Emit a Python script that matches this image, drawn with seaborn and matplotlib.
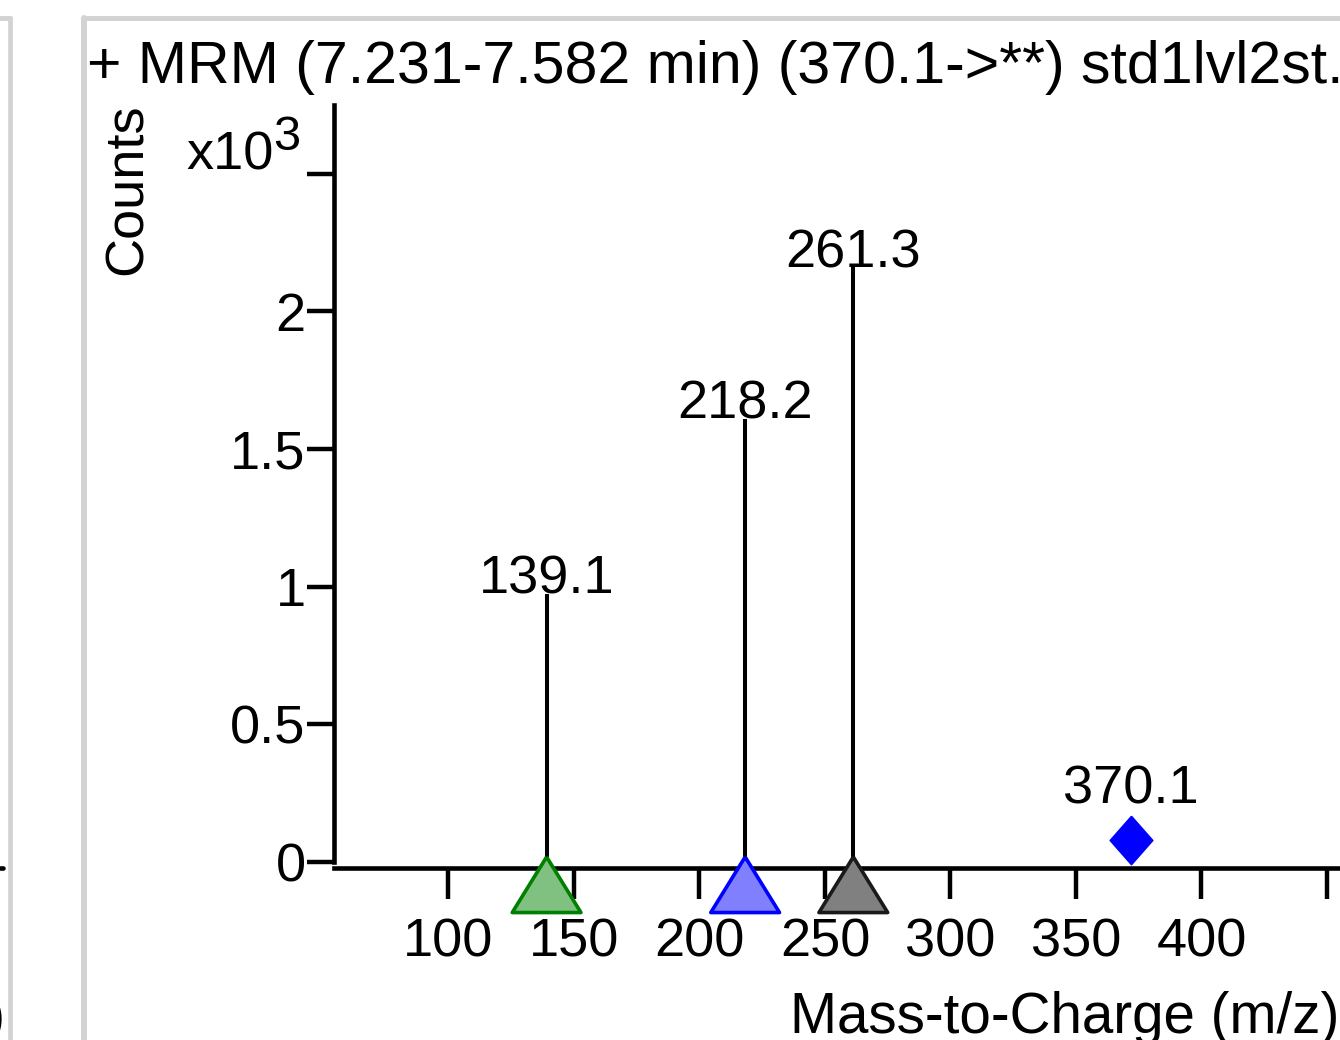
"""
MRM product ion spectrum (MassHunter style) recreated with seaborn
"""

import numpy as np
import pandas as pd
import matplotlib
matplotlib.use("Agg")
import matplotlib.pyplot as plt
from matplotlib.lines import Line2D
from matplotlib.markers import MarkerStyle
import seaborn as sns

# Product ions: m/z and counts (x10^3)
product_mz = [139.1, 218.2, 261.3]
product_counts = [0.975, 1.61, 2.16]
product_labels = ["139.1", "218.2", "261.3"]
product_fill = ["#80C080", "#8080FF", "#808080"]
product_edge = ["#008000", "#0000FF", "#1A1A1A"]

# Precursor ion marker
precursor_mz = [372.0]
precursor_counts = [0.08]
precursor_labels = ["370.1"]

x_ticks = [100, 150, 200, 250, 300, 350, 400, 450]
x_tick_labels = ["100", "150", "200", "250", "300", "350", "400", ""]
y_ticks = [0, 0.5, 1, 1.5, 2, 2.5]
y_tick_labels = ["0", "0.5", "1", "1.5", "2", ""]

title = "+ MRM (7.231-7.582 min) (370.1->**) std1lvl2st."
x_label = "Mass-to-Charge (m/z)"
y_label = "Counts"

W, H = 1340, 1040
FS = 39


def fx(px):
    return px / W


def fy(py):
    # py measured from the top of the image
    return 1 - py / H


sns.set_theme(style="ticks")
plt.rcParams['font.family'] = ['Liberation Sans', 'DejaVu Sans']
plt.rcParams['text.color'] = 'black'
plt.rcParams['axes.labelcolor'] = 'black'

fig = plt.figure(figsize=(W / 100, H / 100), dpi=100)
fig.patch.set_facecolor('white')

# Axes placed in pixel terms; it runs past the right edge like the screenshot
x_min, x_max = 54.4, 470
px_per_mz = 2.51
ax = fig.add_axes([fx(334), fy(862), fx((x_max - x_min) * px_per_mz), (862 - 105) / H])
ax.set_facecolor('white')
ax.set_xlim(x_min, x_max)
ax.set_ylim(0, 2.75)

# Stems
ax.vlines(product_mz, 0, product_counts, colors='black', linewidth=2.9, zorder=2)

# Triangles hanging below the baseline (apex at the peak position)
tri = MarkerStyle(np.array([[0, 0.1], [-0.68, -1], [0.68, -1], [0, 0.1]]))
peaks = pd.DataFrame({
    'mz': product_mz,
    'base': np.zeros(len(product_mz)),
    'label': product_labels,
})
sns.scatterplot(data=peaks, x='mz', y='base', hue='label',
                palette=dict(zip(product_labels, product_fill)),
                marker=tri, s=5300, edgecolor=product_edge, linewidth=2.6,
                legend=False, clip_on=False, zorder=4, ax=ax)

# Precursor diamond
diamond = MarkerStyle(np.array([[0, 1], [0.88, 0], [0, -1], [-0.88, 0], [0, 1]]))
prec = pd.DataFrame({'mz': precursor_mz, 'counts': precursor_counts})
sns.scatterplot(data=prec, x='mz', y='counts', marker=diamond, s=1225,
                color='#0000FF', edgecolor='#0000FF', linewidth=1,
                legend=False, clip_on=False, zorder=4, ax=ax)

# Peak labels
for mz, c, lab in zip(product_mz, product_counts, product_labels):
    ax.annotate(lab, (mz, c), xytext=(0, 0), textcoords='offset points',
                ha='center', va='baseline', fontsize=FS, color='black')
for mz, c, lab in zip(precursor_mz, precursor_counts, precursor_labels):
    ax.annotate(lab, (mz, c), xytext=(0, 26.6), textcoords='offset points',
                ha='center', va='baseline', fontsize=FS, color='black')

# Axis styling
ax.set_xticks(x_ticks)
ax.set_xticklabels(x_tick_labels)
ax.set_yticks(y_ticks)
ax.set_yticklabels(y_tick_labels)
ax.tick_params(axis='x', direction='out', length=22, width=3.2, pad=14,
               labelsize=FS, colors='black')
ax.tick_params(axis='y', direction='out', length=19.5, width=3.2, pad=1,
               labelsize=FS, colors='black')
for side in ['top', 'right']:
    ax.spines[side].set_visible(False)
for side in ['left', 'bottom']:
    ax.spines[side].set_linewidth(3.3)
    ax.spines[side].set_color('black')
ax.spines['bottom'].set_position(('outward', 4.3))
ax.set_xlabel('')
ax.set_ylabel('')
ax.grid(False)

# Texts around the plot
fig.text(fx(87), fy(83), title, fontsize=42.5, ha='left', va='baseline')
fig.text(fx(128), fy(189), y_label, fontsize=FS, rotation=90,
         ha='center', va='center')
fig.text(fx(186), fy(170), "x10", fontsize=FS, ha='left', va='baseline')
fig.text(fx(273), fy(150), "3", fontsize=FS * 0.9, ha='left', va='baseline')
fig.text(fx(790), fy(1033), x_label, fontsize=40.7, ha='left', va='baseline')

# Panel frames (neighbouring pane on the left, this pane's border)
frame = '#D3D3D3'
fig.add_artist(Line2D([fx(10.3), fx(10.3)], [fy(17.5), fy(1040)], color=frame, lw=3.4))
fig.add_artist(Line2D([fx(0), fx(10.3)], [fy(17.5), fy(17.5)], color=frame, lw=3.6))
fig.add_artist(Line2D([fx(84), fx(84)], [fy(17.5), fy(1040)], color=frame, lw=4.3))
fig.add_artist(Line2D([fx(84), fx(1340)], [fy(17.5), fy(17.5)], color=frame, lw=3.6))
fig.add_artist(Line2D([fx(0), fx(3)], [fy(868), fy(868)], color='black', lw=3.3))
fig.text(fx(5), fy(1033), ")", fontsize=FS, ha='right', va='baseline')

fig.savefig('out.png', dpi=100, facecolor='white')
